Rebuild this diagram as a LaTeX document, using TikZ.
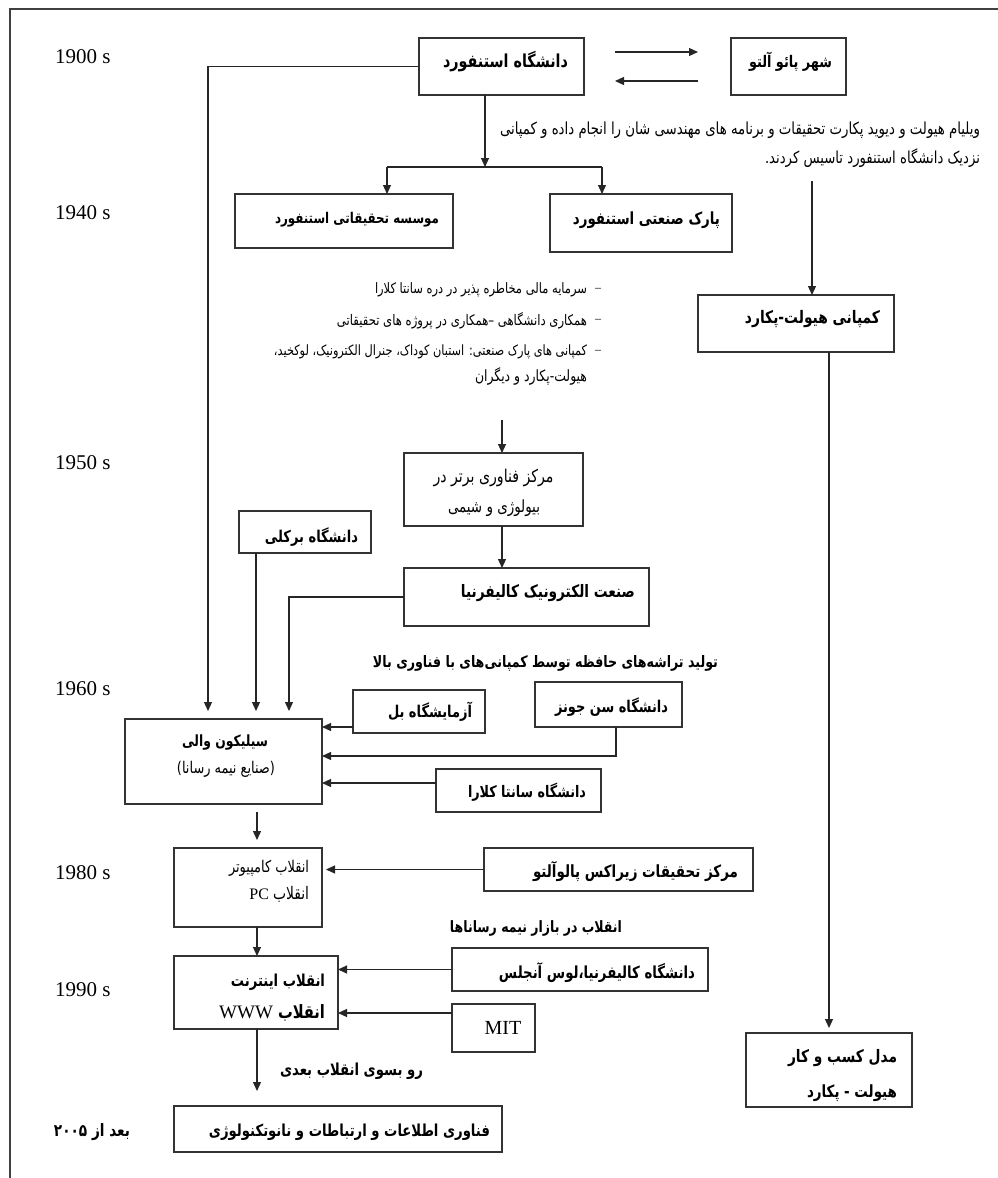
\documentclass[tikz,border=0pt]{standalone}
\usepackage{fontspec}
\usepackage{graphicx}
\usetikzlibrary{arrows.meta,calc}
\setmainfont{Liberation Serif}
\newfontfamily\arabicfont[Script=Arabic]{DejaVu Sans}
\TeXXeTstate=1
\newcommand\ART[2]{\scalebox{1}[1.25]{\resizebox{#1pt}{!}{\arabicfont #2}}}
\newcommand\ARB[2]{\scalebox{1}[1.25]{\resizebox{#1pt}{!}{\arabicfont\bfseries #2}}}
\begin{document}
\begin{tikzpicture}[x=1pt,y=-1pt,
  box/.style={draw=black!80, line width=1.3pt, inner sep=0pt, outer sep=0pt, fill=white},
  txt/.style={inner sep=0pt, outer sep=0pt},
  yr/.style={inner sep=0pt, outer sep=0pt, anchor=west, font=\fontsize{21}{21}\selectfont},
  arr/.style={draw=black!85, line width=1.2pt, -{Triangle[length=9pt,width=8pt]}},
  ln/.style={draw=black!85, line width=1.2pt}]
\useasboundingbox (0,0) rectangle (998,1178);
\fill[white] (0,0) rectangle (998,1178);
% frame
\draw[line width=2.2pt, black!75] (10,1178) -- (10,9) -- (998,9);

% boxes
\node[box, minimum width=165pt, minimum height=57pt] (stanford) at (501.5,66.5) {};
\node[box, minimum width=115pt, minimum height=57pt] (paloalto) at (788.5,66.5) {};
\node[box, minimum width=218pt, minimum height=54pt] (research) at (344,221) {};
\node[box, minimum width=182pt, minimum height=58pt] (park) at (641,223) {};
\node[box, minimum width=196pt, minimum height=57pt] (hp) at (796,323.5) {};
\node[box, minimum width=179pt, minimum height=73pt] (mtc) at (493.5,489.5) {};
\node[box, minimum width=245pt, minimum height=58pt] (elec) at (526.5,597) {};
\node[box, minimum width=132pt, minimum height=42pt] (berkeley) at (305,532) {};
\node[box, minimum width=197pt, minimum height=85pt] (silicon) at (223.5,761.5) {};
\node[box, minimum width=132pt, minimum height=43pt] (bell) at (419,711.5) {};
\node[box, minimum width=147pt, minimum height=45pt] (sanjose) at (608.5,704.5) {};
\node[box, minimum width=165pt, minimum height=43pt] (santaclara) at (518.5,790.5) {};
\node[box, minimum width=148pt, minimum height=79pt] (pc) at (248,887.5) {};
\node[box, minimum width=269pt, minimum height=43pt] (xerox) at (618.5,869.5) {};
\node[box, minimum width=164pt, minimum height=73pt] (internet) at (256,992.5) {};
\node[box, minimum width=256pt, minimum height=43pt] (ucla) at (580,969.5) {};
\node[box, minimum width=83pt, minimum height=48pt] (mit) at (493.5,1028) {};
\node[box, minimum width=328pt, minimum height=46pt] (final) at (338,1129) {};
\node[box, minimum width=166pt, minimum height=74pt] (model) at (829,1070) {};

% helper coordinates
\coordinate (brA) at (485,167);
\coordinate (brL) at (387,167);
\coordinate (brR) at (602,167);
\coordinate (hpIn) at (812,181);
\coordinate (bulIn) at (502,420);
\coordinate (bk) at ($(berkeley.south west)+(17,0)$);
\coordinate (bl) at ([yshift=-15.5pt]bell.west);
\coordinate (sj) at ($(sanjose.south west)+(81,0)$);
\coordinate (sc) at ([yshift=7.5pt]santaclara.west);
\coordinate (v1) at (257,0);
\coordinate (mt) at ([yshift=15pt]mit.west);

% connectors
\draw[arr, shorten >=8pt] (stanford.west) -| ($(silicon.north west)+(83,0)$);
\draw[arr] (stanford.south -| brA) -- (brA);
\draw[ln] (brL) -- (brR);
\draw[arr] (brL) -- (research.north -| brL);
\draw[arr] (brR) -- (park.north -| brR);
\draw[arr, shorten <=31pt, shorten >=33pt] ([yshift=14.5pt]stanford.east) -- ([yshift=14.5pt]paloalto.west);
\draw[arr, shorten <=33pt, shorten >=31pt] ([yshift=-14.5pt]paloalto.west) -- ([yshift=-14.5pt]stanford.east);
\draw[arr] (hpIn) -- (hp.north -| hpIn);
\draw[arr, shorten >=5pt] (hp.south -| model.north) -- (model.north);
\draw[arr] (bulIn) -- (mtc.north -| bulIn);
\draw[arr] (mtc.south -| bulIn) -- (elec.north -| bulIn);
\draw[arr, shorten >=8pt] (elec.west) -| ($(silicon.north west)+(164,0)$);
\draw[arr, shorten >=8pt] (bk) -- (bk |- silicon.north);
\draw[arr] (bl) -- (bl -| silicon.east);
\draw[arr] (sj) |- ($(silicon.east)+(0,-5.5)$);
\draw[arr] (sc) -- (sc -| silicon.east);
\draw[arr, shorten <=8pt, shorten >=8pt] (silicon.south -| v1) -- (pc.north -| v1);
\draw[arr, shorten >=4pt] (xerox.west) -- (xerox.west -| pc.east);
\draw[arr] (pc.south -| v1) -- (internet.north -| v1);
\draw[arr] (ucla.west) -- (ucla.west -| internet.east);
\draw[arr] (mt) -- (mt -| internet.east);
\draw[arr, shorten >=15pt] (internet.south -| v1) -- (final.north -| v1);

% years
\node[yr] (y1900) at (55,57) {1900 s};
\node[yr] (y1940) at (55,213) {1940 s};
\node[yr] (y1950) at (55,463) {1950 s};
\node[yr] (y1960) at (55,689) {1960 s};
\node[yr] (y1980) at (55,873) {1980 s};
\node[yr] (y1990) at (55,990) {1990 s};

% texts
\node[txt] (stanfordT) at (505.5,62) {\ARB{125}{\beginR دانشگاه استنفورد\endR}};
\node[txt] (paloT) at (790.5,62) {\ARB{83}{\beginR شهر پائو آلتو\endR}};
\node[txt, anchor=east] (researchT) at (439,220) {\ARB{164}{\beginR موسسه تحقیقاتی استنفورد\endR}};
\node[txt, anchor=east] (parkT) at (720,220) {\ARB{147}{\beginR پارک صنعتی استنفورد\endR}};
\node[txt, anchor=east] (para1) at (980,130) {\ART{480}{\beginR ویلیام هیولت و دیوید پکارت تحقیقات و برنامه های مهندسی شان را انجام داده و کمپانی\endR}};
\node[txt, anchor=east] (para2) at (980,158) {\ART{215}{\beginR نزدیک دانشگاه استنفورد تاسیس کردند.\endR}};
\node[txt, anchor=east] (hpT) at (880,319) {\ARB{135}{\beginR کمپانی هیولت-پکارد\endR}};

\node[txt, anchor=east] (b1) at (587,290) {\ART{212}{\beginR سرمایه مالی مخاطره پذیر در دره سانتا کلارا\endR}};
\node[txt, anchor=east] (b2) at (587,321) {\ART{250}{\beginR همکاری دانشگاهی –همکاری در پروژه های تحقیقاتی\endR}};
\node[txt, anchor=east] (b3) at (587,352) {\ART{313}{\beginR کمپانی های پارک صنعتی: استبان کوداک، جنرال الکترونیک، لوکخید،\endR}};
\node[txt, anchor=east] (b4) at (587,376) {\ART{112}{\beginR هیولت-پکارد و دیگران\endR}};
\node[txt] (d1) at (598,290) {\fontsize{12}{12}\selectfont –};
\node[txt] (d2) at (598,321) {\fontsize{12}{12}\selectfont –};
\node[txt] (d3) at (598,352) {\fontsize{12}{12}\selectfont –};

\node[txt] (mtc1) at (493.5,478) {\ART{120}{\beginR مرکز فناوری برتر در\endR}};
\node[txt] (mtc2) at (494,508) {\ART{92}{\beginR بیولوژی و شیمی\endR}};
\node[txt, anchor=east] (elecT) at (635,593) {\ARB{174}{\beginR صنعت الکترونیک کالیفرنیا\endR}};
\node[txt, anchor=east] (berkT) at (358,537) {\ARB{93}{\beginR دانشگاه برکلی\endR}};
\node[txt] (cap1) at (545.5,663) {\ARB{345}{\beginR تولید تراشه‌های حافظه توسط کمپانی‌های با فناوری بالا\endR}};
\node[txt, anchor=east] (bellT) at (472,712) {\ARB{84}{\beginR آزمایشگاه بل\endR}};
\node[txt, anchor=east] (sjT) at (668,707) {\ARB{113}{\beginR دانشگاه سن جونز\endR}};
\node[txt, anchor=east] (scT) at (586,792) {\ARB{118}{\beginR دانشگاه سانتا کلارا\endR}};
\node[txt] (sil1) at (225,743) {\ARB{86}{\beginR سیلیکون والی\endR}};
\node[txt] (sil2) at (226,769) {\ART{98}{\beginR (صنایع نیمه رسانا)\endR}};

\node[txt, anchor=east] (pc1) at (309,868) {\ART{80}{\beginR انقلاب کامپیوتر\endR}};
\node[txt, anchor=east] (pc2) at (309,894) {{\fontsize{16}{16}\selectfont PC}\hspace{4pt}\ART{36}{انقلاب}};
\node[txt, anchor=east] (xeroxT) at (738,872) {\ARB{205}{\beginR مرکز تحقیقات زیراکس پالوآلتو\endR}};
\node[txt] (cap2) at (536,928) {\ARB{172}{\beginR انقلاب در بازار نیمه رساناها\endR}};
\node[txt, anchor=east] (uclaT) at (695,973) {\ARB{196}{\beginR دانشگاه کالیفرنیا،لوس آنجلس\endR}};
\node[txt, anchor=east] (int1) at (325,982) {\ARB{94}{\beginR انقلاب اینترنت\endR}};
\node[txt, anchor=east] (int2) at (325,1013) {{\fontsize{19}{19}\selectfont WWW}\hspace{5pt}\ARB{47}{انقلاب}};
\node[txt] (mitT) at (503,1028) {\fontsize{20}{20}\selectfont MIT};
\node[txt] (cap3) at (351.5,1071) {\ARB{143}{\beginR رو بسوی انقلاب بعدی\endR}};
\node[txt, anchor=east] (finalT) at (490,1132) {\ARB{281}{\beginR فناوری اطلاعات و ارتباطات و نانوتکنولوژی\endR}};
\node[txt] (after) at (92,1132) {\ARB{76}{\beginR بعد از ۲۰۰۵\endR}};
\node[txt, anchor=east] (model1) at (897,1058) {\ARB{109}{\beginR مدل کسب و کار\endR}};
\node[txt, anchor=east] (model2) at (897,1093) {\ARB{90}{\beginR هیولت - پکارد\endR}};
\end{tikzpicture}
\end{document}
